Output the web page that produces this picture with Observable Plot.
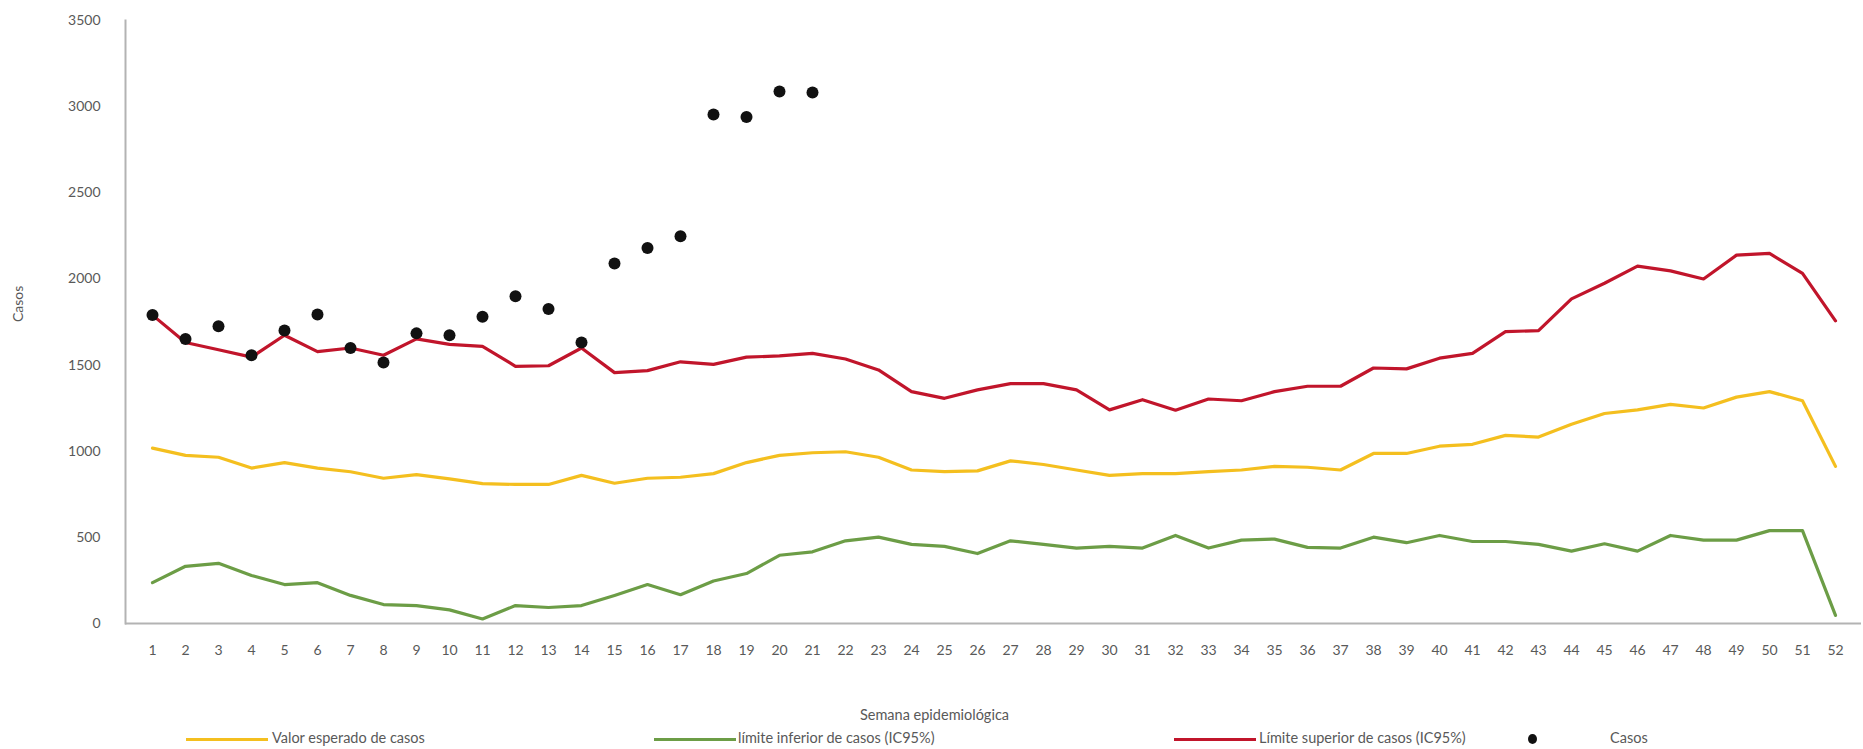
<!DOCTYPE html>
<html>
<head>
<meta charset="utf-8">
<script src="https://cdn.jsdelivr.net/npm/d3@7"></script>
<script src="https://cdn.jsdelivr.net/npm/@observablehq/plot@0.6"></script>
<style>
  html, body { margin: 0; padding: 0; background: #fff; }
  #chart { width: 1863px; }
  .legend { position: relative; width: 1863px; height: 21px; font-family: Lato, "Open Sans", sans-serif; font-size: 14.5px; color: #595959; }
  .legend .sw { position: absolute; top: 10px; height: 3px; width: 82px; }
  .legend .dot { position: absolute; top: 6px; width: 9px; height: 10px; border-radius: 50%; background: #111; }
  .legend .lb { position: absolute; top: 1px; white-space: nowrap; }
</style>
</head>
<body>
<div id="chart"></div>
<div class="legend" id="legend"></div>
<script>
const weeks = [1,2,3,4,5,6,7,8,9,10,11,12,13,14,15,16,17,18,19,20,21,22,23,24,25,26,27,28,29,30,31,32,33,34,35,36,37,38,39,40,41,42,43,44,45,46,47,48,49,50,51,52];
const valorEsperado = [1018,976,965,902,934,902,881,843,864,839, 812,807,807,860,814,843,849,870,934,976, 991,997,965,891,881,886,944,923,891,860, 870,870,881,891,912,907,891,987,987,1029, 1040,1092,1082,1156,1219,1240,1272,1251,1314,1346, 1293,912];
const limiteInferior = [237,332,349,279,226,237,163,110,104,79, 26,104,93,104,163,226,167,247,290,396, 416,480,501,459,448,406,480,459,438,448, 438,511,438,484,490,442,438,501,469,511, 476,476,459,420,463,420,511,484,484,539, 539,47];
const limiteSuperior = [1790,1631,1589,1546,1673,1578,1599,1557,1652,1620, 1609,1493,1496,1599,1456,1468,1519,1504,1546,1553, 1568,1535,1472,1346,1307,1356,1392,1392,1356,1240, 1299,1238,1303,1293,1346,1377,1377,1483,1478,1540, 1568,1694,1700,1884,1975,2074,2047,2000,2138,2148, 2032,1757];
const casosWeeks = [1,2,3,4,5,6,7,8,9,10,11,12,13,14,15,16,17,18,19,20,21];
const casos = [1790,1652,1726,1557,1701,1794,1599,1515,1684,1673,1780,1899,1825,1631,2089,2180,2248,2955,2940,3088,3082];
const yTicks = [0,500,1000,1500,2000,2500,3000,3500];

const seriesNames = ["Valor esperado de casos", "límite inferior de casos (IC95%)", "Límite superior de casos (IC95%)", "Casos"];
const seriesColors = ["#f4bf1f", "#6c9d46", "#c1152b", "#111111"];

const lineRows = [];
weeks.forEach((w, i) => {
  lineRows.push({week: w, value: valorEsperado[i], serie: seriesNames[0]});
  lineRows.push({week: w, value: limiteInferior[i], serie: seriesNames[1]});
  lineRows.push({week: w, value: limiteSuperior[i], serie: seriesNames[2]});
});
const dotRows = casosWeeks.map((w, i) => ({week: w, value: casos[i]}));

const chart = Plot.plot({
  width: 1863,
  height: 728,
  marginLeft: 125,
  marginRight: 2,
  marginTop: 20,
  marginBottom: 105,
  style: {fontFamily: "Lato, 'Open Sans', sans-serif", fontSize: "14px", color: "#595959", background: "#fff"},
  x: {type: "point", domain: weeks, padding: 0.5},
  y: {domain: [0, 3500]},
  color: {domain: seriesNames, range: seriesColors},
  marks: [
    Plot.frame({anchor: "left", stroke: "#b3b3b3", strokeWidth: 2}),
    Plot.ruleY([0], {stroke: "#b3b3b3", strokeWidth: 2}),
    Plot.axisY({ticks: yTicks, tickFormat: d => String(d), tickSize: 0, tickPadding: 25, fontSize: 14, color: "#595959", label: null}),
    Plot.axisX({tickSize: 0, tickPadding: 22, fontSize: 14, color: "#595959", label: null}),
    Plot.text(["Casos"], {frameAnchor: "left", rotate: -90, dx: -107, fontSize: 14, fill: "#595959"}),
    Plot.text(["Semana epidemiológica"], {frameAnchor: "bottom", dx: -59, dy: 96, fontSize: 14.5, fill: "#595959"}),
    Plot.line(lineRows, {x: "week", y: "value", z: "serie", stroke: "serie", strokeWidth: 3.2, curve: "linear"}),
    Plot.dot(dotRows, {x: "week", y: "value", r: 6, fill: seriesColors[3], stroke: "none"})
  ]
});
document.getElementById("chart").appendChild(chart);

// Legend (HTML below the SVG)
const legend = document.getElementById("legend");
const legendItems = [
  {name: seriesNames[0], color: seriesColors[0], kind: "line", sx: 186, tx: 272},
  {name: seriesNames[1], color: seriesColors[1], kind: "line", sx: 654, tx: 738},
  {name: seriesNames[2], color: seriesColors[2], kind: "line", sx: 1174, tx: 1259},
  {name: seriesNames[3], color: seriesColors[3], kind: "dot", sx: 1528, tx: 1610}
];
legendItems.forEach(it => {
  const s = document.createElement("div");
  s.className = it.kind === "line" ? "sw" : "dot";
  s.style.left = it.sx + "px";
  s.style.background = it.color;
  legend.appendChild(s);
  const t = document.createElement("div");
  t.className = "lb";
  t.style.left = it.tx + "px";
  t.textContent = it.name;
  legend.appendChild(t);
});
</script>
</body>
</html>
